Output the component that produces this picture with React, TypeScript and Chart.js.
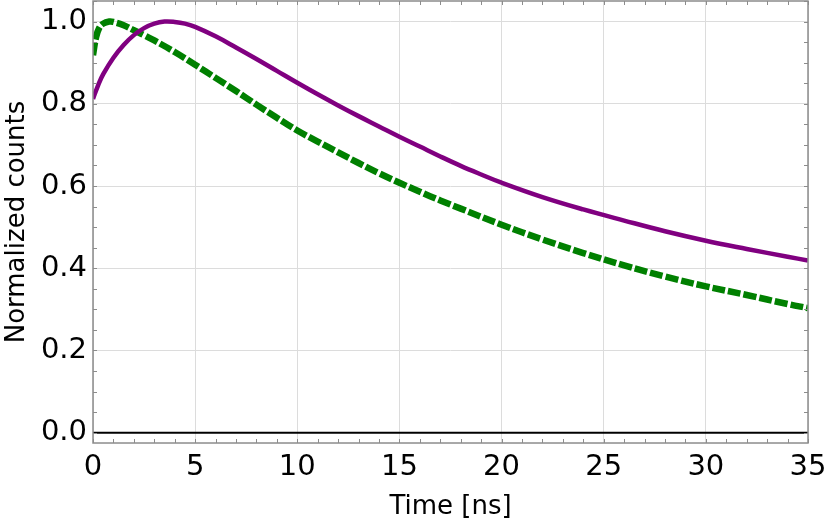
import React, { useEffect, useRef } from "react";
import { Chart, registerables } from "chart.js";

Chart.register(...registerables);

const purpleT = [0, 0.25, 0.5, 1, 1.5, 2, 2.5, 3, 3.5, 4, 4.5, 5, 6, 7, 8, 9, 10, 11, 12, 13, 14, 15, 16, 17, 18, 19, 20, 22, 24, 26, 28, 30, 32, 34, 35];
const purpleY = [0.812, 0.845, 0.872, 0.912, 0.943, 0.967, 0.984, 0.995, 1.0, 0.999, 0.995, 0.987, 0.964, 0.937, 0.909, 0.88, 0.851, 0.823, 0.796, 0.77, 0.745, 0.72, 0.696, 0.672, 0.649, 0.628, 0.608, 0.573, 0.543, 0.516, 0.49, 0.467, 0.447, 0.428, 0.419];

const greenT = [0, 0.15, 0.3, 0.5, 0.8, 1, 1.5, 2, 2.5, 3, 4, 5, 6, 7, 8, 9, 10, 11, 12, 13, 14, 15, 16, 17, 18, 20, 22, 24, 26, 28, 30, 32, 34, 35];
const greenY = [0.918, 0.962, 0.984, 0.995, 1.0, 0.999, 0.991, 0.979, 0.967, 0.954, 0.926, 0.895, 0.863, 0.831, 0.798, 0.766, 0.735, 0.708, 0.682, 0.656, 0.631, 0.608, 0.586, 0.565, 0.545, 0.506, 0.47, 0.437, 0.407, 0.38, 0.356, 0.335, 0.313, 0.303];

const zeroT = [0, 35];
const zeroY = [0, 0];

const X_MIN = 0, X_MAX = 35, X_STEP = 5, X_MINOR = 1;
const Y_MIN = -0.025, Y_MAX = 1.05, Y_STEP = 0.2, Y_MINOR = 0.05;

const FONT = "'DejaVu Sans', sans-serif";

const toPts = (xs: number[], ys: number[]) => xs.map((x, i) => ({ x, y: ys[i] }));

const framePlugin = {
  id: "frameTicks",
  afterDraw(chart: any) {
    const { ctx, chartArea: a, scales } = chart;
    const xs = scales.x, ys = scales.y;
    ctx.save();
    ctx.strokeStyle = "#8c8c8c";
    ctx.lineWidth = 1;
    const L = 4;
    ctx.beginPath();
    for (let v = X_MIN; v <= X_MAX + 1e-9; v += X_MINOR) {
      const px = Math.round(xs.getPixelForValue(v)) + 0.5;
      ctx.moveTo(px, a.bottom); ctx.lineTo(px, a.bottom - L);
      ctx.moveTo(px, a.top); ctx.lineTo(px, a.top + L);
    }
    for (let v = 0; v <= Y_MAX + 1e-9; v += Y_MINOR) {
      const py = Math.round(ys.getPixelForValue(v)) + 0.5;
      ctx.moveTo(a.left, py); ctx.lineTo(a.left + L, py);
      ctx.moveTo(a.right, py); ctx.lineTo(a.right - L, py);
    }
    ctx.stroke();
    ctx.lineWidth = 1.5;
    ctx.strokeRect(a.left, a.top, a.right - a.left, a.bottom - a.top);
    ctx.restore();
  },
};

export default function App() {
  const ref = useRef<HTMLCanvasElement | null>(null);
  useEffect(() => {
    if (!ref.current) return;
    const chart = new Chart(ref.current, {
      type: "line",
      data: {
        datasets: [
          {
            data: toPts(zeroT, zeroY),
            borderColor: "#000000",
            borderWidth: 2,
            pointRadius: 0,
            tension: 0,
          },
          {
            data: toPts(purpleT, purpleY),
            borderColor: "#800080",
            borderWidth: 4.5,
            pointRadius: 0,
            tension: 0.4,
          },
          {
            data: toPts(greenT, greenY),
            borderColor: "#008000",
            borderWidth: 6.5,
            borderDash: [13, 3],
            pointRadius: 0,
            tension: 0.4,
          },
        ],
      },
      options: {
        animation: false,
        responsive: false,
        maintainAspectRatio: false,
        layout: { padding: { top: 1, right: 22, left: 0, bottom: 0 } },
        plugins: { legend: { display: false }, tooltip: { enabled: false } },
        scales: {
          x: {
            type: "linear",
            min: X_MIN,
            max: X_MAX,
            border: { display: false },
            grid: { color: "#dcdcdc", lineWidth: 1, drawTicks: false },
            ticks: {
              stepSize: X_STEP,
              padding: 7,
              color: "#000",
              font: { family: FONT, size: 29 },
              maxRotation: 0,
              callback: (v: any) => String(v),
            },
            title: {
              display: true,
              text: "Time [ns]",
              color: "#000",
              font: { family: FONT, size: 26 },
              padding: { top: 0, bottom: 4 },
            },
            afterFit: (s: any) => {
              s.height = 84;
              s.paddingLeft = 0;
              s.paddingRight = 0;
            },
          },
          y: {
            type: "linear",
            min: Y_MIN,
            max: Y_MAX,
            border: { display: false },
            grid: { color: "#dcdcdc", lineWidth: 1, drawTicks: false },
            ticks: {
              stepSize: Y_STEP,
              includeBounds: false,
              padding: 6,
              color: "#000",
              font: { family: FONT, size: 29 },
              callback: (v: any) => Number(v).toFixed(1),
            },
            title: {
              display: true,
              text: "Normalized counts",
              color: "#000",
              font: { family: FONT, size: 26 },
              padding: { top: 2, bottom: 0 },
            },
            afterFit: (s: any) => {
              s.width = 93;
              s.paddingTop = 0;
              s.paddingBottom = 0;
            },
          },
        },
      },
      plugins: [framePlugin],
    } as any);
    return () => chart.destroy();
  }, []);
  return (
    <div style={{ position: "fixed", left: 0, top: 0, width: 830, height: 527, background: "#fff" }}>
      <canvas ref={ref} width={830} height={527} style={{ width: 830, height: 527, display: "block" }} />
    </div>
  );
}
